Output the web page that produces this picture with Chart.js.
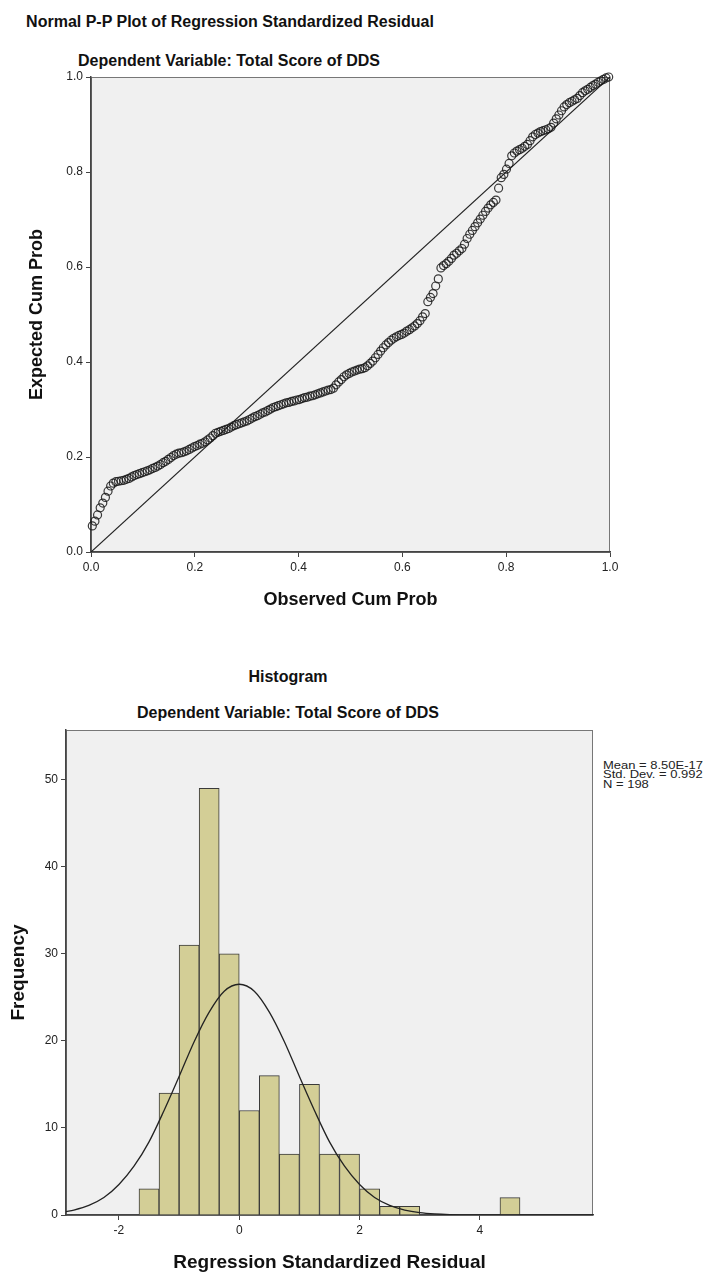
<!DOCTYPE html>
<html>
<head>
<meta charset="utf-8">
<script src="https://cdn.jsdelivr.net/npm/chart.js@4/dist/chart.umd.min.js"></script>
<style>
  body { margin: 0; background: #fff; }
  #page { position: relative; width: 711px; height: 1277px; font-family: "Liberation Sans", Arial, sans-serif; color: #111; }
  .title { position: absolute; font-weight: bold; font-size: 16px; line-height: 18px; white-space: nowrap; transform: translateX(-50%); }
  #stats { position: absolute; left: 603px; top: 761px; font-size: 11px; line-height: 9.3px; white-space: nowrap; color: #222; transform: scaleX(1.18); transform-origin: left top; }
  canvas { position: absolute; left: 0; }
</style>
</head>
<body>
<div id="page">
  <div class="title" style="left:230px; top:13px;">Normal P-P Plot of Regression Standardized Residual</div>
  <div class="title" style="left:229px; top:52px;">Dependent Variable: Total Score of DDS</div>
  <canvas id="ppChart" width="711" height="640" style="top:0"></canvas>

  <div class="title" style="left:288px; top:668px;">Histogram</div>
  <div class="title" style="left:288px; top:704px;">Dependent Variable: Total Score of DDS</div>
  <div id="stats">Mean = 8.50E-17<br>Std. Dev. = 0.992<br>N = 198</div>
  <canvas id="histChart" width="711" height="637" style="top:640px"></canvas>
</div>
<script>
// ---- P-P plot data (expected cum prob for each of the 198 residuals, in rank order) ----
var sampleSize = 198
var expectedCumProb = [
  0.055, 0.065, 0.078, 0.093, 0.103, 0.115, 0.128, 0.139, 0.145, 0.148,
  0.149, 0.150, 0.151, 0.153, 0.155, 0.158, 0.161, 0.163, 0.165, 0.167,
  0.169, 0.171, 0.173, 0.176, 0.178, 0.181, 0.184, 0.188, 0.191, 0.195,
  0.199, 0.203, 0.206, 0.208, 0.209, 0.211, 0.213, 0.216, 0.219, 0.222,
  0.224, 0.227, 0.229, 0.232, 0.236, 0.240, 0.245, 0.250, 0.252, 0.254,
  0.256, 0.258, 0.260, 0.263, 0.266, 0.268, 0.270, 0.272, 0.274, 0.276,
  0.279, 0.282, 0.285, 0.287, 0.290, 0.293, 0.295, 0.298, 0.301, 0.304,
  0.306, 0.308, 0.310, 0.312, 0.314, 0.315, 0.317, 0.318, 0.320, 0.321,
  0.323, 0.325, 0.326, 0.328, 0.329, 0.331, 0.333, 0.335, 0.337, 0.339,
  0.341, 0.342, 0.345, 0.352, 0.358, 0.363, 0.369, 0.373, 0.376, 0.379,
  0.381, 0.383, 0.385, 0.386, 0.388, 0.392, 0.397, 0.402, 0.409, 0.416,
  0.423, 0.430, 0.436, 0.441, 0.446, 0.450, 0.453, 0.456, 0.458, 0.461,
  0.465, 0.468, 0.472, 0.476, 0.481, 0.487, 0.495, 0.502, 0.527, 0.536,
  0.544, 0.560, 0.575, 0.598, 0.603, 0.607, 0.612, 0.618, 0.625, 0.629,
  0.634, 0.639, 0.648, 0.660, 0.669, 0.677, 0.685, 0.693, 0.701, 0.709,
  0.717, 0.724, 0.731, 0.736, 0.741, 0.766, 0.788, 0.795, 0.806, 0.818,
  0.834, 0.840, 0.844, 0.847, 0.850, 0.854, 0.858, 0.866, 0.874, 0.879,
  0.882, 0.885, 0.887, 0.889, 0.891, 0.894, 0.903, 0.912, 0.920, 0.929,
  0.937, 0.942, 0.946, 0.949, 0.952, 0.955, 0.961, 0.967, 0.971, 0.974,
  0.978, 0.982, 0.985, 0.989, 0.992, 0.995, 0.998, 1.000
]
var ppTicks = [0, 0.2, 0.4, 0.6, 0.8, 1.0]

// ---- histogram data ----
var binCenters = [-1.5, -1.167, -0.833, -0.5, -0.167, 0.167, 0.5, 0.833, 1.167, 1.5,
  1.833, 2.167, 2.5, 2.833, 3.167, 3.5, 3.833, 4.167, 4.5]
var frequencies = [3, 14, 31, 49, 30, 12, 16, 7, 15, 7, 7, 3, 1, 1, 0, 0, 0, 0, 2]
var histXTicks = [-2, 0, 2, 4]
var histYTicks = [0, 10, 20, 30, 40, 50]
// normal curve
var curveX = [-2.88, -2.75, -2.5, -2.25, -2, -1.75, -1.5, -1.25, -1, -0.75, -0.5, -0.25, 0,
  0.25, 0.5, 0.75, 1, 1.25, 1.5, 1.75, 2, 2.25, 2.5, 2.75, 3, 3.25, 3.5, 4, 4.5, 5, 5.88]
var curveY = [0.39, 0.57, 1.1, 2.0, 3.5, 5.6, 8.4, 12.0, 15.9, 19.9, 23.3, 25.7, 26.5,
  25.7, 23.3, 19.9, 15.9, 12.0, 8.4, 5.6, 3.5, 2.0, 1.1, 0.57, 0.27, 0.12, 0.05, 0.01, 0, 0, 0]

var fontFamily = '"Liberation Sans", Arial, sans-serif'
Chart.defaults.font.family = fontFamily
Chart.defaults.color = '#222'

var plotFrame = {
    id: 'plotFrame',
    beforeDraw: function (chart) {
        var a = chart.chartArea
        var ctx = chart.ctx
        ctx.save()
        ctx.fillStyle = '#f0f0f0'
        ctx.fillRect(a.left, a.top, a.right - a.left, a.bottom - a.top)
        ctx.strokeStyle = '#777'
        ctx.lineWidth = 1
        ctx.strokeRect(a.left + 0.5, a.top + 0.5, a.right - a.left - 1, a.bottom - a.top)
        ctx.restore()
    }
}

function axisStyle() {
    return {
        grid: { drawOnChartArea: false, drawTicks: true, offset: false, tickLength: 5, color: '#444', lineWidth: 1 },
        border: { display: true, color: '#444', width: 1.5 }
    }
}

function fixedTicks(list) {
    return function (s) { s.ticks = list.map(function (v) { return { value: v } }) }
}

// ---- P-P plot ----
var ppPoints = expectedCumProb.map(function (v, i) {
    return { x: (i + 0.5) / sampleSize, y: v }
})

var ppX = axisStyle()
ppX.type = 'linear'
ppX.min = 0
ppX.max = 1
ppX.afterBuildTicks = fixedTicks(ppTicks)
ppX.ticks = { font: { size: 12 }, padding: 3, maxRotation: 0, callback: function (v) { return v.toFixed(1) } }
ppX.title = { display: true, text: 'Observed Cum Prob', font: { size: 18, weight: 'bold' }, color: '#111', padding: { top: 0, bottom: 29 } }
ppX.afterFit = function (s) { s.height = 88 }

var ppY = axisStyle()
ppY.type = 'linear'
ppY.min = 0
ppY.max = 1
ppY.afterBuildTicks = fixedTicks(ppTicks)
ppY.ticks = { font: { size: 12 }, padding: 3, callback: function (v) { return v.toFixed(1) } }
ppY.title = { display: true, text: 'Expected Cum Prob', font: { size: 18, weight: 'bold' }, color: '#111', padding: { top: 26, bottom: 0 } }
ppY.afterFit = function (s) { s.width = 91 }

new Chart(document.getElementById('ppChart'), {
    type: 'scatter',
    data: {
        datasets: [
            {
                data: [{ x: 0, y: 0 }, { x: 1, y: 1 }],
                showLine: true,
                borderColor: '#222',
                borderWidth: 1.2,
                pointRadius: 0,
                order: 1
            },
            {
                data: ppPoints,
                pointRadius: 4,
                pointBorderWidth: 1.2,
                pointBorderColor: 'rgba(25,25,25,0.85)',
                pointBackgroundColor: 'rgba(0,0,0,0)',
                clip: false,
                order: 0
            }
        ]
    },
    options: {
        responsive: false,
        animation: false,
        layout: { padding: { top: 77, right: 101, left: 0, bottom: 0 } },
        plugins: { legend: { display: false }, tooltip: { enabled: false } },
        scales: { x: ppX, y: ppY }
    },
    plugins: [plotFrame]
})

// ---- histogram ----
var hX = axisStyle()
hX.type = 'linear'
hX.min = -2.88
hX.max = 5.88
hX.offset = false
hX.afterBuildTicks = fixedTicks(histXTicks)
hX.ticks = { font: { size: 12 }, padding: 3, maxRotation: 0 }
hX.title = { display: true, text: 'Regression Standardized Residual', font: { size: 19, weight: 'bold' }, color: '#111', padding: { top: 0, bottom: 3 } }
hX.afterFit = function (s) { s.height = 62 }

var hY = axisStyle()
hY.type = 'linear'
hY.min = 0
hY.max = 55.7
hY.afterBuildTicks = fixedTicks(histYTicks)
hY.ticks = { font: { size: 12 }, padding: 3 }
hY.title = { display: true, text: 'Frequency', font: { size: 19, weight: 'bold' }, color: '#111', padding: { top: 7, bottom: 0 } }
hY.afterFit = function (s) { s.width = 66 }

new Chart(document.getElementById('histChart'), {
    type: 'bar',
    data: {
        datasets: [
            {
                type: 'line',
                data: curveX.map(function (x, i) { return { x: x, y: curveY[i] } }),
                borderColor: '#222',
                borderWidth: 1.3,
                pointRadius: 0,
                fill: false,
                cubicInterpolationMode: 'monotone',
                order: 0
            },
            {
                type: 'bar',
                data: binCenters.map(function (x, i) { return { x: x, y: frequencies[i] } }),
                backgroundColor: '#d3ce96',
                borderColor: '#3a3a3a',
                borderWidth: 1,
                barPercentage: 1,
                categoryPercentage: 1,
                order: 1
            }
        ]
    },
    options: {
        responsive: false,
        animation: false,
        layout: { padding: { top: 90, right: 118, left: 0, bottom: 0 } },
        plugins: { legend: { display: false }, tooltip: { enabled: false } },
        scales: { x: hX, y: hY }
    },
    plugins: [plotFrame]
})
</script>
</body>
</html>
